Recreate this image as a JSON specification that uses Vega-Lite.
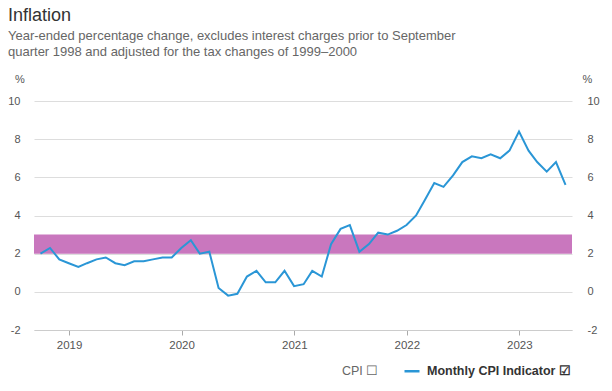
{
  "$schema": "https://vega.github.io/schema/vega-lite/v6.json",
  "width": 538,
  "height": 229,
  "autosize": {"type": "none"},
  "padding": {"left": 34, "top": 101, "right": 40, "bottom": 61},
  "background": "white",
  "config": {
    "font": "Liberation Sans",
    "view": {"stroke": null}
  },
  "title": {
    "text": "Inflation",
    "subtitle": ["Year-ended percentage change, excludes interest charges prior to September", "quarter 1998 and adjusted for the tax changes of 1999–2000"],
    "anchor": "start",
    "frame": "group",
    "dx": -26,
    "fontSize": 18,
    "fontWeight": "normal",
    "color": "#333333",
    "subtitleFontSize": 13,
    "subtitleColor": "#666666",
    "subtitleLineHeight": 16,
    "subtitlePadding": 5,
    "offset": 14
  },
  "layer": [
    {
      "data": {"values": [{"lower": 2, "upper": 3}]},
      "mark": {"type": "rect", "color": "#c977be"},
      "encoding": {
        "y": {
          "field": "lower", "type": "quantitative",
          "scale": {"domain": [-2, 10], "nice": false, "zero": false},
          "axis": {
            "orient": "left", "values": [-2, 0, 2, 4, 6, 8, 10],
            "labelExpr": "replace(datum.label, '−', '-')",
            "grid": true, "gridColor": "#dddddd", "gridWidth": 1,
            "domain": false, "ticks": false,
            "labelFontSize": 11, "labelColor": "#555555", "labelPadding": 14,
            "title": "%", "titleAngle": 0, "titleX": -14.5, "titleY": -22,
            "titleAlign": "center", "titleBaseline": "middle",
            "titleFontSize": 11, "titleFontWeight": "normal", "titleColor": "#555555"
          }
        },
        "y2": {"field": "upper"}
      }
    },
    {
      "data": {"values": [
        {"date": "2018-09-30", "value": 2.0, "series": "Monthly CPI Indicator"},
        {"date": "2018-10-31", "value": 2.3, "series": "Monthly CPI Indicator"},
        {"date": "2018-11-30", "value": 1.7, "series": "Monthly CPI Indicator"},
        {"date": "2018-12-31", "value": 1.5, "series": "Monthly CPI Indicator"},
        {"date": "2019-01-31", "value": 1.3, "series": "Monthly CPI Indicator"},
        {"date": "2019-02-28", "value": 1.5, "series": "Monthly CPI Indicator"},
        {"date": "2019-03-31", "value": 1.7, "series": "Monthly CPI Indicator"},
        {"date": "2019-04-30", "value": 1.8, "series": "Monthly CPI Indicator"},
        {"date": "2019-05-31", "value": 1.5, "series": "Monthly CPI Indicator"},
        {"date": "2019-06-30", "value": 1.4, "series": "Monthly CPI Indicator"},
        {"date": "2019-07-31", "value": 1.6, "series": "Monthly CPI Indicator"},
        {"date": "2019-08-31", "value": 1.6, "series": "Monthly CPI Indicator"},
        {"date": "2019-09-30", "value": 1.7, "series": "Monthly CPI Indicator"},
        {"date": "2019-10-31", "value": 1.8, "series": "Monthly CPI Indicator"},
        {"date": "2019-11-30", "value": 1.8, "series": "Monthly CPI Indicator"},
        {"date": "2019-12-31", "value": 2.3, "series": "Monthly CPI Indicator"},
        {"date": "2020-01-31", "value": 2.7, "series": "Monthly CPI Indicator"},
        {"date": "2020-02-29", "value": 2.0, "series": "Monthly CPI Indicator"},
        {"date": "2020-03-31", "value": 2.1, "series": "Monthly CPI Indicator"},
        {"date": "2020-04-30", "value": 0.2, "series": "Monthly CPI Indicator"},
        {"date": "2020-05-31", "value": -0.2, "series": "Monthly CPI Indicator"},
        {"date": "2020-06-30", "value": -0.1, "series": "Monthly CPI Indicator"},
        {"date": "2020-07-31", "value": 0.8, "series": "Monthly CPI Indicator"},
        {"date": "2020-08-31", "value": 1.1, "series": "Monthly CPI Indicator"},
        {"date": "2020-09-30", "value": 0.5, "series": "Monthly CPI Indicator"},
        {"date": "2020-10-31", "value": 0.5, "series": "Monthly CPI Indicator"},
        {"date": "2020-11-30", "value": 1.1, "series": "Monthly CPI Indicator"},
        {"date": "2020-12-31", "value": 0.3, "series": "Monthly CPI Indicator"},
        {"date": "2021-01-31", "value": 0.4, "series": "Monthly CPI Indicator"},
        {"date": "2021-02-28", "value": 1.1, "series": "Monthly CPI Indicator"},
        {"date": "2021-03-31", "value": 0.8, "series": "Monthly CPI Indicator"},
        {"date": "2021-04-30", "value": 2.5, "series": "Monthly CPI Indicator"},
        {"date": "2021-05-31", "value": 3.3, "series": "Monthly CPI Indicator"},
        {"date": "2021-06-30", "value": 3.5, "series": "Monthly CPI Indicator"},
        {"date": "2021-07-31", "value": 2.1, "series": "Monthly CPI Indicator"},
        {"date": "2021-08-31", "value": 2.5, "series": "Monthly CPI Indicator"},
        {"date": "2021-09-30", "value": 3.1, "series": "Monthly CPI Indicator"},
        {"date": "2021-10-31", "value": 3.0, "series": "Monthly CPI Indicator"},
        {"date": "2021-11-30", "value": 3.2, "series": "Monthly CPI Indicator"},
        {"date": "2021-12-31", "value": 3.5, "series": "Monthly CPI Indicator"},
        {"date": "2022-01-31", "value": 4.0, "series": "Monthly CPI Indicator"},
        {"date": "2022-02-28", "value": 4.8, "series": "Monthly CPI Indicator"},
        {"date": "2022-03-31", "value": 5.7, "series": "Monthly CPI Indicator"},
        {"date": "2022-04-30", "value": 5.5, "series": "Monthly CPI Indicator"},
        {"date": "2022-05-31", "value": 6.1, "series": "Monthly CPI Indicator"},
        {"date": "2022-06-30", "value": 6.8, "series": "Monthly CPI Indicator"},
        {"date": "2022-07-31", "value": 7.1, "series": "Monthly CPI Indicator"},
        {"date": "2022-08-31", "value": 7.0, "series": "Monthly CPI Indicator"},
        {"date": "2022-09-30", "value": 7.2, "series": "Monthly CPI Indicator"},
        {"date": "2022-10-31", "value": 7.0, "series": "Monthly CPI Indicator"},
        {"date": "2022-11-30", "value": 7.4, "series": "Monthly CPI Indicator"},
        {"date": "2022-12-31", "value": 8.4, "series": "Monthly CPI Indicator"},
        {"date": "2023-01-31", "value": 7.4, "series": "Monthly CPI Indicator"},
        {"date": "2023-02-28", "value": 6.8, "series": "Monthly CPI Indicator"},
        {"date": "2023-03-31", "value": 6.3, "series": "Monthly CPI Indicator"},
        {"date": "2023-04-30", "value": 6.8, "series": "Monthly CPI Indicator"},
        {"date": "2023-05-31", "value": 5.6, "series": "Monthly CPI Indicator"}
      ]},
      "mark": {"type": "line", "strokeWidth": 2, "interpolate": "linear"},
      "encoding": {
        "x": {
          "field": "date", "type": "temporal",
          "scale": {"domain": [{"year": 2018, "month": 9, "date": 9}, {"year": 2023, "month": 6, "date": 21}], "nice": false},
          "axis": {
            "title": null, "format": "%Y", "tickCount": {"interval": "year", "step": 1},
            "grid": false, "domainColor": "#cccccc", "tickColor": "#aaaaaa", "tickSize": 5,
            "labelFontSize": 11.5, "labelColor": "#555555", "labelPadding": 4
          }
        },
        "y": {
          "field": "value", "type": "quantitative",
          "scale": {"domain": [-2, 10], "nice": false, "zero": false},
          "axis": {
            "orient": "right", "values": [-2, 0, 2, 4, 6, 8, 10],
            "labelExpr": "replace(datum.label, '−', '-')",
            "grid": false, "domain": false, "ticks": false,
            "labelFontSize": 11, "labelColor": "#555555", "labelPadding": 15,
            "title": "%", "titleAngle": 0, "titleX": 15, "titleY": -22,
            "titleAlign": "center", "titleBaseline": "middle",
            "titleFontSize": 11, "titleFontWeight": "normal", "titleColor": "#555555"
          }
        },
        "color": {
          "field": "series", "type": "nominal",
          "scale": {"domain": ["CPI", "Monthly CPI Indicator"], "range": ["transparent", "#2a96d6"]},
          "legend": {
            "orient": "none", "legendX": 284, "legendY": 261,
            "direction": "horizontal", "title": null, "padding": 0,
            "symbolType": "stroke", "symbolSize": 225, "symbolStrokeWidth": 2.5,
            "labelFontSize": 12.5, "labelFont": "Liberation Sans", "labelOffset": 6,
            "columnPadding": 20, "labelLimit": 300,
            "labelExpr": "datum.label == 'CPI' ? 'CPI ☐' : 'Monthly CPI Indicator ☑'",
            "encode": {
              "labels": {
                "update": {
                  "fontWeight": {"signal": "datum.value == 'CPI' ? 'normal' : 'bold'"},
                  "fill": {"signal": "datum.value == 'CPI' ? '#666666' : '#333333'"}
                }
              }
            }
          }
        }
      }
    }
  ],
  "resolve": {"scale": {"y": "independent"}}
}
